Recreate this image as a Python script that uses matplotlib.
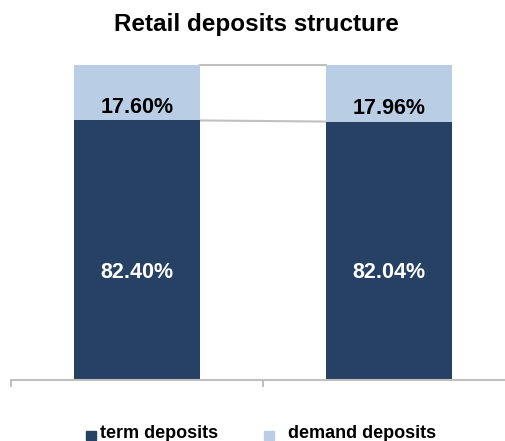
import matplotlib
matplotlib.use("Agg")
import matplotlib.pyplot as plt
from matplotlib.patches import Rectangle
import numpy as np

plt.rcParams['font.family'] = ['Liberation Sans', 'DejaVu Sans']

categories = ["2010", "2011"]
term_deposits = [82.40, 82.04]
demand_deposits = [17.60, 17.96]
series_names = ["term deposits", "demand deposits"]
title = "Retail deposits structure"

c_term = "#264163"
c_demand = "#B9CDE5"
c_grey = "#C0C0C0"

W, H = 505, 441
fig = plt.figure(figsize=(W / 100, H / 100), dpi=100)
ax = fig.add_axes([11 / W, 61 / H, 504 / W, 315 / H])

x = np.arange(len(categories))
bw = 0.5
term = np.array(term_deposits)
dem = np.array(demand_deposits)
ax.bar(x, term, width=bw, color=c_term, zorder=2)
ax.bar(x, dem, width=bw, bottom=term, color=c_demand, zorder=2)

# series connector lines
for i in range(len(x) - 1):
    ax.plot([x[i] + bw / 2, x[i + 1] - bw / 2], [term[i], term[i + 1]],
            color=c_grey, lw=1.5, zorder=1, clip_on=False)
    ax.plot([x[i] + bw / 2, x[i + 1] - bw / 2],
            [term[i] + dem[i], term[i + 1] + dem[i + 1]],
            color=c_grey, lw=1.5, zorder=1, clip_on=False)

# value labels
for i in range(len(x)):
    ax.annotate(f"{term[i]:.2f}%", (x[i], term[i] / 2), xytext=(0, -15.7),
                textcoords="offset points", ha="center", va="center",
                fontsize=15.5, fontweight="bold", color="white", zorder=3)
    ax.annotate(f"{dem[i]:.2f}%", (x[i], term[i] + dem[i] / 2), xytext=(0, -11),
                textcoords="offset points", ha="center", va="center",
                fontsize=15.5, fontweight="bold", color="black", zorder=3)

ax.set_xlim(-0.5, len(x) - 0.5)
ax.set_ylim(0, 100)
ax.set_yticks([])
ax.set_xticks([])
ax.set_xticks(np.arange(-0.5, len(x)), minor=True)
ax.tick_params(axis="x", which="minor", length=5, width=1.5, color=c_grey, labelbottom=False)
for s in ["left", "right", "top"]:
    ax.spines[s].set_visible(False)
ax.spines["bottom"].set_color(c_grey)
ax.spines["bottom"].set_linewidth(1.5)
ax.patch.set_alpha(0)

fig.text(256 / W, 1 - 24 / H, title, ha="center", va="center",
         fontsize=17.5, fontweight="bold")

# legend
legend_items = [(series_names[0], c_term, 86, 100), (series_names[1], c_demand, 264, 288)]
for name, col, mx, tx in legend_items:
    fig.patches.append(Rectangle((mx / W, 1 - 440 / H), 10 / W, 9 / H,
                                 transform=fig.transFigure, color=col, figure=fig))
    fig.text(tx / W, 1 - 433 / H, name, ha="left", va="center",
             fontsize=13, fontweight="bold")

fig.savefig("out.png", dpi=100)
